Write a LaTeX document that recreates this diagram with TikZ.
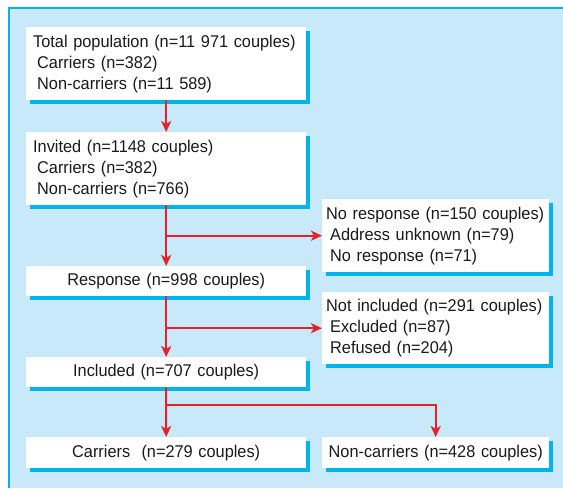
\documentclass[tikz,border=0pt]{standalone}
\usepackage{fontspec}
\setmainfont{Liberation Sans}[FakeStretch=0.96]
\usetikzlibrary{shadows,arrows.meta}
\definecolor{bgblue}{HTML}{C7E9F9}
\definecolor{shcyan}{HTML}{00B3EA}
\definecolor{arrred}{HTML}{E62129}
\definecolor{txt}{HTML}{1A1A1A}
\hyphenpenalty=10000
\exhyphenpenalty=10000
\begin{document}
\begin{tikzpicture}[x=1pt,y=1pt,
  box/.style={fill=white, text=txt, anchor=north west, inner xsep=7pt, inner ysep=0pt,
    general shadow={fill=shcyan, shadow xshift=3.5pt, shadow yshift=-3.5pt},
    font=\fontsize{17}{21}\selectfont},
  wide/.style={minimum width=280pt, text width=266pt},
  narrow/.style={minimum width=227pt, inner xsep=4pt, text width=219pt},
  arr/.style={draw=arrred, line width=2pt, -{Stealth[length=11pt,width=10pt,inset=3pt]}},
  link/.style={draw=arrred, line width=2pt}]
\useasboundingbox (0,0) rectangle (563,488);
\fill[white] (0,0) rectangle (563,488);
\fill[bgblue] (9,0) rectangle (563,480);
\draw[shcyan, line width=1.5pt] (9,0) -- (9,480) -- (563,480);

\node[box, wide, minimum height=73pt, align=left] (b1) at (26,461)
  {Total population (n=11 971 couples)\\\hspace{4pt}Carriers (n=382)\\\hspace{4pt}Non-carriers (n=11 589)};
\node[box, wide, minimum height=73pt, align=left] (b2) at (26,356)
  {Invited (n=1148 couples)\\\hspace{4pt}Carriers (n=382)\\\hspace{4pt}Non-carriers (n=766)};
\node[box, narrow, minimum height=73pt, align=left] (b3) at (322,289)
  {No response (n=150 couples)\\\hspace{4pt}Address unknown (n=79)\\\hspace{4pt}No response (n=71)};
\node[box, wide, minimum height=30pt, align=center] (b4) at (26,222)
  {Response (n=998 couples)};
\node[box, narrow, minimum height=72pt, align=left] (b5) at (322,196)
  {Not included (n=291 couples)\\\hspace{4pt}Excluded (n=87)\\\hspace{4pt}Refused (n=204)};
\node[box, wide, minimum height=30pt, align=center] (b6) at (26,131)
  {Included (n=707 couples)};
\node[box, wide, minimum height=31pt, align=center] (b7) at (26,51)
  {Carriers\ \ (n=279 couples)};
\node[box, narrow, minimum height=31pt, align=center] (b8) at (322,51)
  {Non-carriers (n=428 couples)};

\draw[arr] (b1.south) -- (b2.north);
\draw[arr] (b2.south) -- (b4.north);
\draw[arr] (b2.south |- b3.west) -- (b3.west);
\draw[arr] (b4.south) -- (b6.north);
\draw[arr] (b4.south |- b5.west) -- (b5.west);
\coordinate (j) at (166,83);
\draw[link] (b6.south) -- (j);
\draw[arr] (j) -- (b7.north);
\draw[arr] (j) -| (b8.north);
\end{tikzpicture}
\end{document}
